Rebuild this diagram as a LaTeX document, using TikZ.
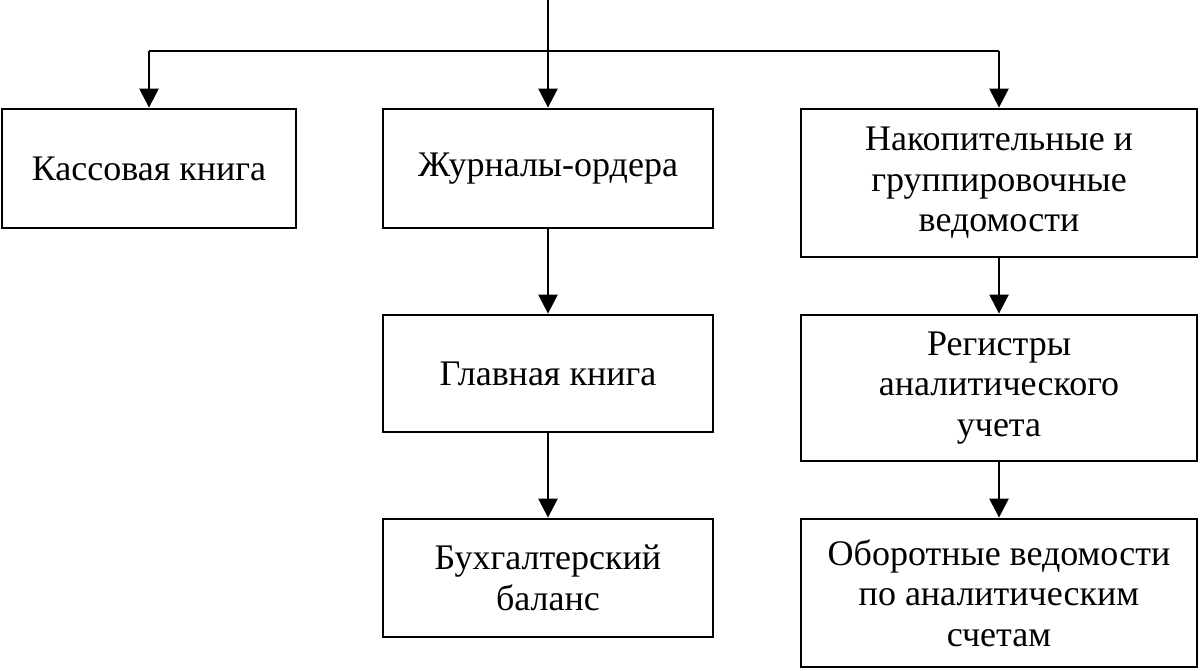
\documentclass[tikz,border=0pt]{standalone}
\usepackage{fontspec}
\setmainfont{Liberation Serif}
\usetikzlibrary{arrows.meta}
\begin{document}
\begin{tikzpicture}[x=1pt,y=-1pt,
  box/.style={draw=black,line width=2.8pt,fill=white,align=center,inner sep=0pt,
    font=\fontsize{36}{40.5}\selectfont,text=black},
  conn/.style={line width=2.5pt,-{Triangle[length=19pt,width=19pt]}},
  plain/.style={line width=2.5pt}]
\useasboundingbox (0,0) rectangle (1202,671);
\node[box,minimum width=294pt,minimum height=119pt] (kassa) at (149,168.5) {Кассовая книга};
\node[box,minimum width=330pt,minimum height=119pt] (zhur) at (548,168.5) {Журналы-ордера};
\node[box,minimum width=396pt,minimum height=148pt] (nakop) at (999,183) {Накопительные и\\группировочные\\ведомости};
\node[box,minimum width=330pt,minimum height=117pt] (glav) at (548,373.5) {Главная книга};
\node[box,minimum width=330pt,minimum height=118pt] (buh) at (548,578) {Бухгалтерский\\баланс};
\node[box,minimum width=396pt,minimum height=146pt] (reg) at (999,388) {Регистры\\аналитического\\учета};
\node[box,minimum width=396pt,minimum height=148pt] (obor) at (999,593) {Оборотные ведомости\\по аналитическим\\счетам};
\coordinate (top) at (548,0);
\coordinate (jn) at (548,51);
\coordinate (jl) at (149,51);
\coordinate (jr) at (999,51);
\draw[plain] (top) -- (jn);
\draw[plain] (jl) -- (jr);
\draw[conn] (jl) -- (kassa.north);
\draw[conn] (jn) -- (zhur.north);
\draw[conn] (jr) -- (nakop.north);
\draw[conn] (zhur) -- (glav);
\draw[conn] (glav) -- (buh);
\draw[conn] (nakop) -- (reg);
\draw[conn] (reg) -- (obor);
\end{tikzpicture}
\end{document}
